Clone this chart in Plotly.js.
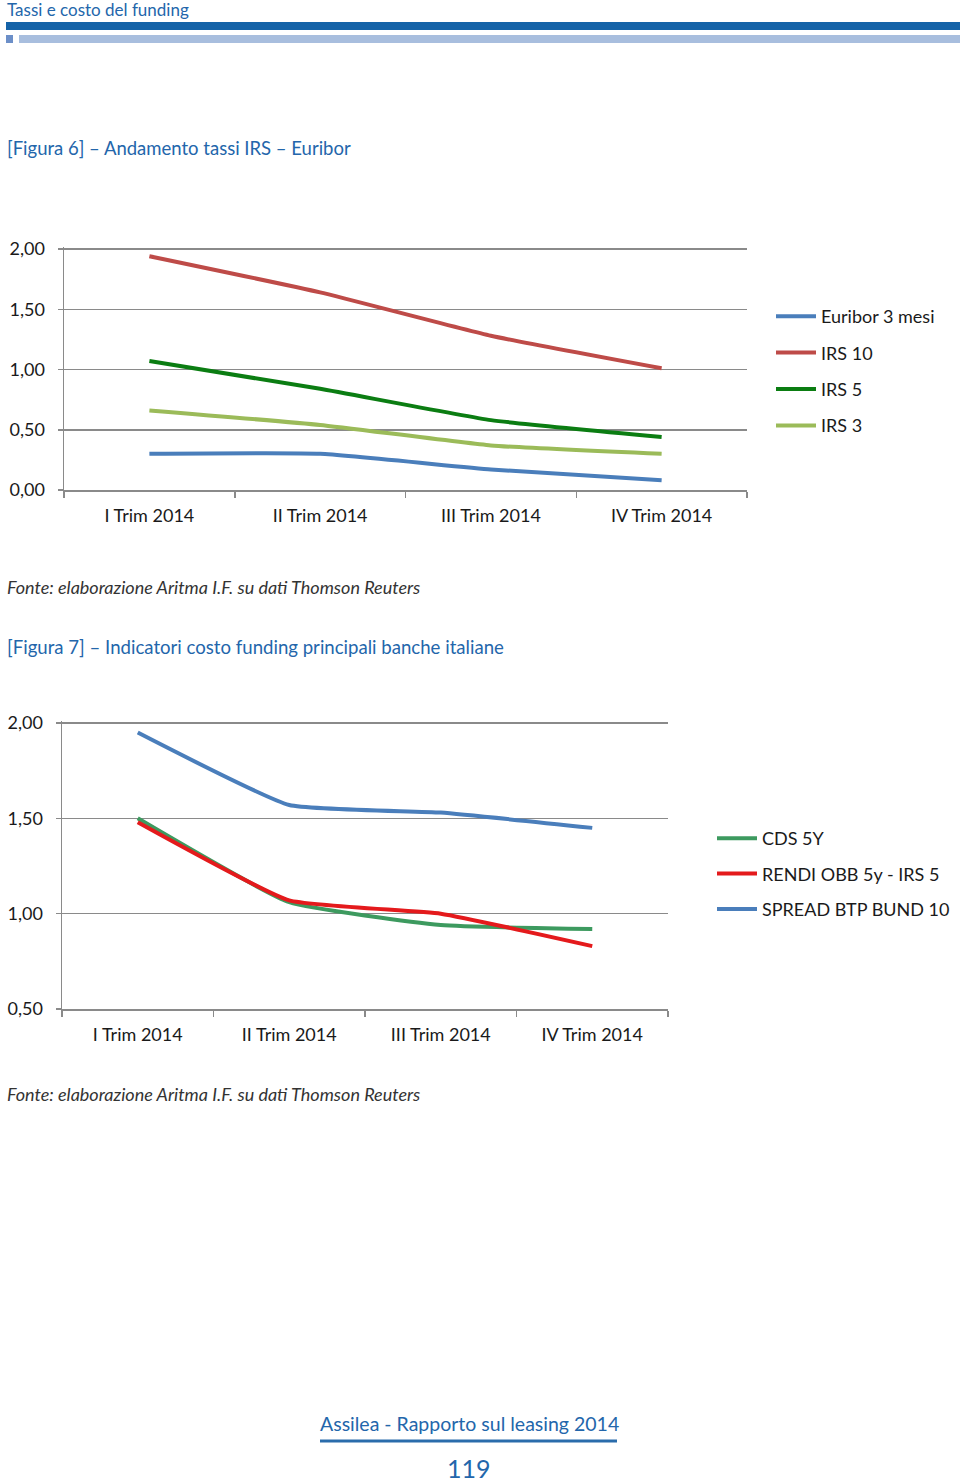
<!DOCTYPE html>
<html><head><meta charset="utf-8">
<script src="https://cdn.plot.ly/plotly-3.0.1.min.js"></script>
<style>html,body{margin:0;padding:0;background:#fff}#chart{width:960px;height:1484px}</style>
</head><body><div id="chart"></div>
<script>
// ---- Data ----
const categories = ["I Trim 2014", "II Trim 2014", "III Trim 2014", "IV Trim 2014"];
// Figura 6
const euribor3m = [0.30, 0.30, 0.17, 0.08];
const irs10 = [1.94, 1.64, 1.28, 1.01];
const irs5 = [1.07, 0.84, 0.58, 0.44];
const irs3 = [0.66, 0.54, 0.37, 0.30];
const fig6Ticks = [0, 0.5, 1, 1.5, 2];
// Figura 7
const cds5y = [1.50, 1.06, 0.94, 0.92];
const rendiObb = [1.48, 1.07, 1.00, 0.83];
const spreadBtpBund = [1.95, 1.57, 1.53, 1.45];
const fig7Ticks = [0.5, 1, 1.5, 2];

const H = 1484, W = 960;
const py = p => 1 - p / H;
const px = p => p / W;

const tickFont = {family: "Lato, 'Open Sans', sans-serif", size: 18, color: "#1a1a1a"};
const grid = "#8a8a8a";

function tr(name, y, color, xa, ya, lg, grp) {
  return {type: "scatter", mode: "lines", name: name, x: categories, y: y,
    xaxis: xa, yaxis: ya, legend: lg, legendgroup: grp,
    line: {color: color, width: 4, shape: "spline", smoothing: 0.4},
    hoverinfo: "skip"};
}

const data = [
  tr("Euribor 3 mesi", euribor3m, "#4a7ebb", "x", "y", "legend", "a"),
  tr("IRS 10", irs10, "#be4b48", "x", "y", "legend", "b"),
  tr("IRS 5", irs5, "#0b7d12", "x", "y", "legend", "c"),
  tr("IRS 3", irs3, "#9bbb59", "x", "y", "legend", "d"),
  tr("CDS 5Y", cds5y, "#3d9a5f", "x2", "y2", "legend2", "e"),
  tr("RENDI OBB 5y - IRS 5", rendiObb, "#e41a1c", "x2", "y2", "legend2", "f"),
  tr("SPREAD BTP BUND 10", spreadBtpBund, "#4a7ebb", "x2", "y2", "legend2", "g")
];

function xax(dom, anchor) {
  return {domain: dom, anchor: anchor, type: "category", range: [-0.5, 3.5],
    showline: true, linecolor: grid, linewidth: 1.5, showgrid: false, zeroline: false,
    ticks: "outside", tickson: "boundaries", ticklen: 6, tickcolor: grid, tickwidth: 1.5,
    tickfont: tickFont, ticklabelstandoff: 9, fixedrange: true};
}
function yax(dom, anchor, rng, tv) {
  return {domain: dom, anchor: anchor, range: rng, tickvals: tv, tickformat: ".2f",
    showline: true, linecolor: grid, linewidth: 1.5, showgrid: true, gridcolor: grid, gridwidth: 1.5,
    zeroline: false, ticks: "outside", ticklen: 5, tickcolor: grid, tickwidth: 1.5,
    tickfont: tickFont, ticklabelstandoff: 9, fixedrange: true};
}

const hdrBlue = "#2366ab";
const annFont = (size, color, extra) => Object.assign({family: "Lato, 'Noto Sans', sans-serif", size: size, color: color}, extra || {});

function ann(text, x, y, size, color, opts) {
  return Object.assign({text: text, xref: "paper", yref: "paper", x: px(x), y: py(y),
    xanchor: "left", yanchor: "middle", showarrow: false, font: annFont(size, color)}, opts || {});
}

const layout = {
  width: W, height: H, margin: {l: 0, r: 0, t: 0, b: 0},
  paper_bgcolor: "#fff", plot_bgcolor: "#fff", separators: ",.",
  showlegend: true,
  xaxis: xax([px(64), px(747)], "y"),
  yaxis: yax([py(490), py(247)], "x", [0, 2.0166], fig6Ticks),
  xaxis2: xax([px(62), px(668)], "y2"),
  yaxis2: yax([py(1009), py(721)], "x2", [0.5, 2.0105], fig7Ticks),
  legend: {x: px(771), y: py(298), xanchor: "left", yanchor: "top", traceorder: "grouped",
    tracegroupgap: 10, font: tickFont, itemwidth: 40, bgcolor: "rgba(0,0,0,0)"},
  legend2: {x: px(712), y: py(820), xanchor: "left", yanchor: "top", traceorder: "grouped",
    tracegroupgap: 9, font: tickFont, itemwidth: 40, bgcolor: "rgba(0,0,0,0)"},
  shapes: [
    {type: "rect", xref: "paper", yref: "paper", x0: px(6), x1: 1, y0: py(30), y1: py(22), fillcolor: "#1563a8", line: {width: 0}},
    {type: "rect", xref: "paper", yref: "paper", x0: px(6), x1: px(13), y0: py(43), y1: py(35), fillcolor: "#6c8fc8", line: {width: 0}},
    {type: "rect", xref: "paper", yref: "paper", x0: px(19), x1: 1, y0: py(43), y1: py(35), fillcolor: "#a8bede", line: {width: 0}},
    {type: "line", xref: "paper", yref: "paper", x0: px(320), x1: px(617), y0: py(1441), y1: py(1441), line: {color: "#2a6cab", width: 3}}
  ],
  annotations: [
    ann("Tassi e costo del funding", 5, 10, 17, hdrBlue),
    ann("[Figura 6] – Andamento tassi IRS – Euribor", 5, 148, 18.5, hdrBlue),
    ann("Fonte: elaborazione Aritma I.F. su dati Thomson Reuters", 5, 587, 18, "#333", {font: annFont(18, "#333", {style: "italic"})}),
    ann("[Figura 7] – Indicatori costo funding principali banche italiane", 5, 647, 18.6, hdrBlue),
    ann("Fonte: elaborazione Aritma I.F. su dati Thomson Reuters", 5, 1094, 18, "#333", {font: annFont(18, "#333", {style: "italic"})}),
    ann("Assilea - Rapporto sul leasing 2014", 469, 1423, 19.5, hdrBlue, {xanchor: "center"}),
    ann("119", 469, 1468, 25, hdrBlue, {xanchor: "center"})
  ]
};

Plotly.newPlot("chart", data, layout, {staticPlot: true, displayModeBar: false});
</script>
</body></html>
